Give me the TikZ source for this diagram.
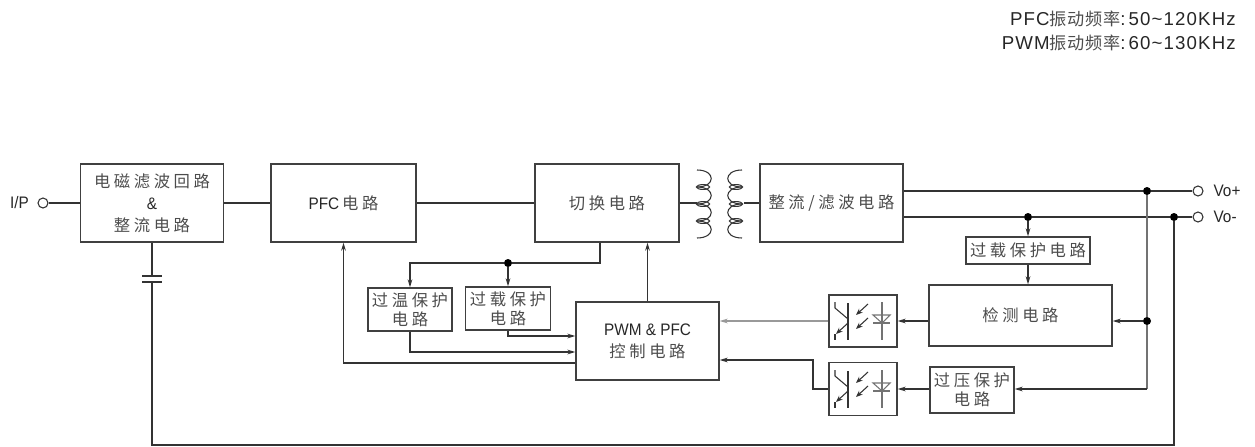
\documentclass[tikz,border=0pt]{standalone}
\usepackage{fontspec}
\setmainfont{Liberation Sans}[FakeStretch=0.92]
\newfontfamily\hdfont{Liberation Sans}[LetterSpace=6]
\newfontfamily\zhfont{Noto Sans CJK SC}[LetterSpace=22,Scale=0.98]
\newfontfamily\zhhead{Noto Sans CJK SC}[LetterSpace=4,Scale=0.92]
\usetikzlibrary{arrows.meta,positioning}
\newcommand\cn[1]{{\zhfont\color{black!70}#1}}
\newcommand\cnh[1]{{\zhhead\color{black!70}#1}}

\tikzset{
  blk/.style={draw=black!75, line width=1pt, inner sep=0pt, align=center, text=black!85, font=\fontsize{12.5}{16.5}\selectfont},
  bsize/.style 2 args={minimum width=#1*0.75pt, minimum height=#2*0.75pt},
  wire/.style={draw=black!80, line width=0.9pt},
  arr/.style={wire, -{Stealth[length=6pt,width=3.5pt]}},
  thin/.style={wire, line width=0.8pt},
  tip/.style={thin, -{Stealth[length=5pt,width=4pt]}},
  jdot/.style={circle, fill=black, inner sep=0pt, minimum size=6pt},
  term/.style={circle, draw=black!80, fill=white, line width=0.8pt, inner sep=0pt, minimum size=7.5pt},
  lbl/.style={text=black!85, font=\fontsize{12.5}{16.5}\selectfont},
  hdr/.style={text=black!85, anchor=east, inner sep=0pt, font=\hdfont\fontsize{14}{18}\selectfont},
}

\begin{document}
\begin{tikzpicture}[x=0.75pt,y=0.75pt,yscale=-1,xscale=1]
\useasboundingbox (0,0) rectangle (1255,446);

% header
\node[hdr] (hdpfc) at (1236,19) {PFC\cnh{振动频率}:\,50\textasciitilde120KHz};
\node[hdr] (hdpwm) at (1236,43) {PWM\cnh{振动频率}:\,60\textasciitilde130KHz};

% blocks
\node[blk, bsize={143}{78}] (emi) at (152,203) {\cn{电磁滤波回路}\\ \&\\ \cn{整流电路}};
\node[blk, bsize={145}{78}] (pfc) at (343.5,203) {PFC\,\cn{电路}};
\node[blk, bsize={144}{78}] (sw) at (607,203) {\cn{切换电路}};
\node[blk, bsize={143}{78}] (rect) at (831.5,203) {\cn{整流/滤波电路}};
\node[blk, bsize={84}{43}] (otp) at (410,309.5) {\cn{过温保护}\\[-2pt]\cn{电路}};
\node[blk, bsize={85}{43}] (olp1) at (508,308.5) {\cn{过载保护}\\[-2pt]\cn{电路}};
\node[blk, bsize={143}{78}] (ctrl) at (647.5,341) {PWM \& PFC\\\cn{控制电路}};
\node[blk, bsize={124}{27}] (olp2) at (1028,250.5) {\cn{过载保护电路}};
\node[blk, bsize={183}{61}] (det) at (1020.5,315.5) {\cn{检测电路}};
\node[blk, bsize={84}{46}] (ovp) at (972,390) {\cn{过压保护}\\[-2pt]\cn{电路}};
\node[blk, bsize={68}{52}] (opto1) at (863,321) {};
\node[blk, bsize={68}{53}] (opto2) at (863,389) {};

% optocoupler symbols
\foreach \ox/\oy in {863/321, 863/389}{
  \draw[thin] ({\ox-28},{\oy-19}) -- ({\ox-28},{\oy-13}) -- ({\ox-15},{\oy-2});
  \draw[thin] ({\ox-15},{\oy-18}) -- ({\ox-15},{\oy+19});
  \draw[tip] ({\ox-15},{\oy+2}) -- ({\ox-27},{\oy+13});
  \draw[thin] ({\ox-28},{\oy+13}) -- ({\ox-28},{\oy+19});
  \draw[tip] ({\ox+5},{\oy-17}) -- ({\ox-7},{\oy-6});
  \draw[tip] ({\ox+5},{\oy-3}) -- ({\ox-7},{\oy+8});
  \draw[thin, draw=black!55] ({\ox+19},{\oy-19}) -- ({\ox+19},{\oy+19});
  \draw[thin, draw=black!55] ({\ox+10},{\oy-6}) -- ({\ox+27},{\oy-6}) -- ({\ox+19},{\oy+2}) -- cycle;
  \draw[thin, draw=black!55] ({\ox+10},{\oy+2}) -- ({\ox+27},{\oy+2});
}

% terminals
\node[term] (ip) at (43,203) {};
\node[lbl, left=3pt of ip] (iptxt) {I/P};
\node[term] (vop) at (1198,191) {};
\node[term] (von) at (1198,217) {};
\node[lbl, right=4pt of vop] (voptxt) {Vo+};
\node[lbl, right=4pt of von] (vontxt) {Vo-};

% junctions
\node[jdot] (d1) at (508,263) {};
\node[jdot] (d2) at (1028,217) {};
\node[jdot] (d3) at (1147,191) {};
\node[jdot] (d4) at (1174,217) {};
\node[jdot] (d5) at (1147,321) {};
\coordinate (t1) at (600,263);
\coordinate (c1) at (1147,389);
\coordinate (c2) at (813,360);
\coordinate (c3) at (1174,445);
\coordinate (c4) at (152,445);
\coordinate (c5) at (342,363);
\coordinate (c6) at (410,352);
\coordinate (c7) at (508,336);
\coordinate (cap1) at (152,276);
\coordinate (cap2) at (152,282);
\coordinate (tl) at (697,203);
\coordinate (tr) at (744,203);

% main path
\draw[wire] (ip) -- (emi);
\draw[wire] (emi) -- (pfc);
\draw[wire] (pfc) -- (sw);
\draw[wire] (sw.east) -- (tl);
\draw[wire] (tr) -- (rect.west);

% transformer
\foreach \k [evaluate=\k as \ya using 170+17*\k, evaluate=\k as \yb using 187+17*\k] in {0,...,3}{
  \draw[thin] (697,\ya) .. controls (716,\ya) and (716,\yb) .. (697,\yb);
  \draw[thin] (742,\ya) .. controls (723,\ya) and (723,\yb) .. (742,\yb);
}
\foreach \y in {187,204,221}{
  \draw[thin] (703,\y) ellipse [x radius=5pt, y radius=1.8pt];
  \draw[thin] (736,\y) ellipse [x radius=5pt, y radius=1.8pt];
}

% outputs
\draw[wire] (rect.east |- vop) -- (d3) -- (vop);
\draw[wire] (rect.east |- von) -- (d2) -- (d4) -- (von);
\draw[arr] (d2) -- (olp2);
\draw[arr] (olp2) -- (olp2 |- det.north);
\draw[wire, draw=black!55] (d3) -- (d5) -- (c1);
\draw[arr] (d5) -- (det.east |- d5);
\draw[arr] (c1) -- (ovp.east |- c1);
\draw[arr] (det.west |- opto1) -- (opto1.east);
\draw[arr] (ovp.west |- c1) -- (opto2.east |- c1);
\draw[arr, draw=black!40] (opto1.west) -- (ctrl.east |- opto1);
\draw[arr] (opto2.west |- c1) -| (c2) -- (ctrl.east |- c2);

% protection and control
\draw[wire] (sw.south -| t1) -- (t1) -- (d1);
\draw[arr] (d1) -| (otp.north);
\draw[arr] (d1) -- (olp1.north);
\draw[arr] (olp1.south) |- (ctrl.west |- c7);
\draw[arr] (otp.south) |- (ctrl.west |- c6);
\draw[arr] (ctrl.west |- c5) -| (pfc.south);
\draw[arr] (ctrl.north) -- (ctrl.north |- sw.south);

% capacitor and return
\draw[wire] (emi.south) -- (cap1);
\draw[wire] ([xshift=-7.5pt]cap1) -- ([xshift=7.5pt]cap1);
\draw[wire] ([xshift=-7.5pt]cap2) -- ([xshift=7.5pt]cap2);
\draw[wire] (cap2) -- (c4) -- (c3) -- (d4);

\end{tikzpicture}
\end{document}
